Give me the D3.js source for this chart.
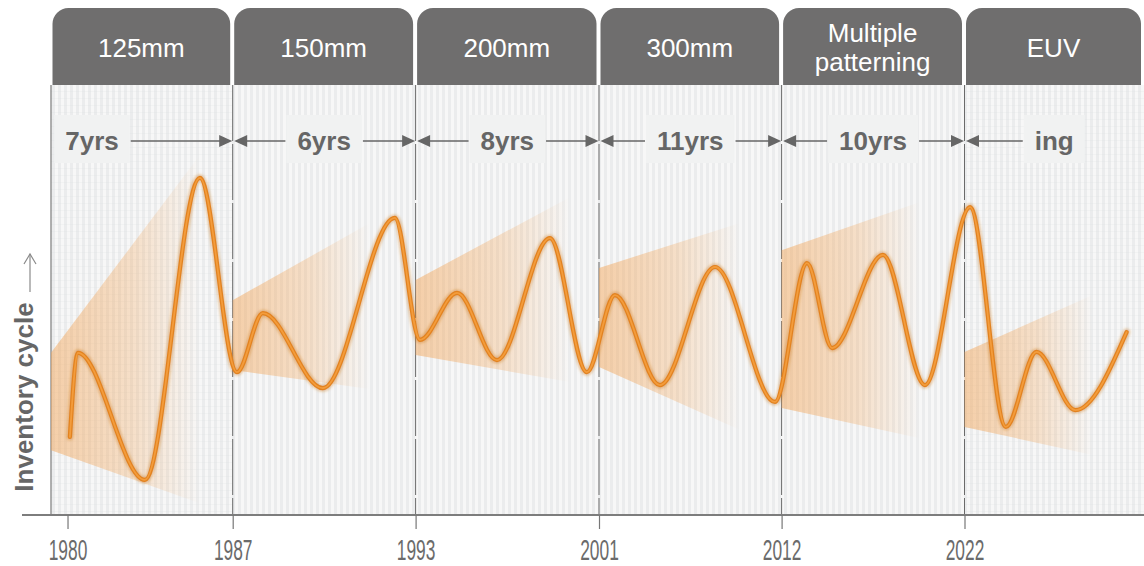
<!DOCTYPE html>
<html>
<head>
<meta charset="utf-8">
<script src="https://cdn.jsdelivr.net/npm/d3@7"></script>
<style>
  html, body { margin: 0; padding: 0; background: #ffffff; }
  svg { display: block; }
</style>
</head>
<body>
<svg id="chart" width="1144" height="566"></svg>
<script>
// Technology eras (tab labels, one array entry per line of text)
const eraNames = [["125mm"], ["150mm"], ["200mm"], ["300mm"], ["Multiple", "patterning"], ["EUV"]];
// Era boundaries on the time axis (first is the left edge of the plot, last the right edge)
const eraBounds = [1979.3, 1987, 1993, 2001, 2012, 2022, 2031.6];
// Duration of each era
const eraSpans = ["7yrs", "6yrs", "8yrs", "11yrs", "10yrs", "ing"];
// Year labels on the time axis
const yearTicks = [1980, 1987, 1993, 2001, 2012, 2022];

// Inventory cycle curve (turning points)
const cycleYears = [1980.1, 1980.44, 1983.28, 1985.61, 1987.14, 1987.99, 1989.96, 1992.32,
  1993.19, 1994.81, 1996.55, 1998.86, 2000.47, 2001.96, 2004.67, 2007.99, 2011.6,
  2013.39, 2014.76, 2017.54, 2019.84, 2022.3, 2024.21, 2025.85, 2027.93, 2030.67];
const cycleValues = [18.6, 38.1, 8.6, 78.7, 33.6, 47.3, 29.9, 69.4,
  41.1, 52.0, 36.4, 64.7, 33.6, 51.5, 30.6, 58.0, 26.7,
  58.9, 39.2, 60.8, 30.6, 71.9, 20.9, 38.3, 24.8, 42.9];

// Trend cones opening within each era
const fanStart = [1979.3, 1987, 1993, 2001, 2012, 2022];
const fanEnd = [1985.61, 1991.5, 1999.73, 2009.5, 2019.57, 2028.86];
const fanTopStart = [38.1, 50.3, 55.0, 57.8, 61.9, 38.3];
const fanBottomStart = [15.5, 34.1, 37.6, 34.8, 25.3, 20.9];
const fanTopEnd = [84.0, 68.2, 74.2, 68.2, 73.1, 51.5];
const fanBottomEnd = [3.2, 29.7, 31.3, 20.2, 18.3, 14.4];

const svg = d3.select("#chart");
const W = 1144;
const plotTop = 85, plotBottom = 515, plotLeft = 51;

// Piecewise time scale: every era gets roughly the same width
const x = d3.scaleLinear()
  .domain(eraBounds)
  .range([plotLeft, 232.7, 415.6, 599, 781.6, 964.5, W]);
const y = d3.scaleLinear().domain([0, 100]).range([517, 86]);

const defs = svg.append("defs");

// Vertical pin-stripe texture of the plot background
const stripes = defs.append("pattern")
  .attr("id", "stripes").attr("patternUnits", "userSpaceOnUse")
  .attr("width", 6).attr("height", 12);
stripes.append("rect").attr("width", 6).attr("height", 12).attr("fill", "#ebeced");
stripes.append("rect").attr("x", 1).attr("width", 3).attr("height", 12).attr("fill", "#f7f7f7");

// Faint cross-hatching on the first and last era
const grid = defs.append("pattern")
  .attr("id", "grid").attr("patternUnits", "userSpaceOnUse")
  .attr("width", 6).attr("height", 7);
grid.append("rect").attr("y", 0).attr("width", 6).attr("height", 1).attr("fill", "#dcdddd").attr("opacity", 0.22);

// Cone gradient: solid peach at the left, fading out to the right
const fanGrad = defs.append("linearGradient").attr("id", "fanGrad")
  .attr("x1", 0).attr("x2", 1).attr("y1", 0).attr("y2", 0);
fanGrad.append("stop").attr("offset", 0).attr("stop-color", "#f2a65a").attr("stop-opacity", 0.5);
fanGrad.append("stop").attr("offset", 0.55).attr("stop-color", "#f2a65a").attr("stop-opacity", 0.3);
fanGrad.append("stop").attr("offset", 1).attr("stop-color", "#f2a65a").attr("stop-opacity", 0);

const blur = defs.append("filter").attr("id", "soft")
  .attr("x", "-5%").attr("y", "-5%").attr("width", "110%").attr("height", "110%");
blur.append("feGaussianBlur").attr("stdDeviation", 1.6);

// Plot background
svg.append("rect")
  .attr("x", plotLeft).attr("y", plotTop)
  .attr("width", W - plotLeft).attr("height", plotBottom - plotTop)
  .attr("fill", "url(#stripes)");
[0, 5].forEach(i => {
  svg.append("rect")
    .attr("x", x(eraBounds[i])).attr("y", plotTop)
    .attr("width", x(eraBounds[i + 1]) - x(eraBounds[i])).attr("height", plotBottom - plotTop)
    .attr("fill", "url(#grid)");
});

// Era tabs
const tabTop = 8, tabBottom = plotTop, r = 16;
eraNames.forEach((lines, i) => {
  const x0 = x(eraBounds[i]) + 1.5;
  const x1 = Math.min(x(eraBounds[i + 1]) - 2.5, W - 3);
  const p = d3.path();
  p.moveTo(x0, tabBottom);
  p.lineTo(x0, tabTop + r);
  p.arcTo(x0, tabTop, x0 + r, tabTop, r);
  p.lineTo(x1 - r, tabTop);
  p.arcTo(x1, tabTop, x1, tabTop + r, r);
  p.lineTo(x1, tabBottom);
  p.closePath();
  svg.append("path").attr("d", p.toString()).attr("fill", "#6f6e6e");
  const cx = (x0 + x1) / 2;
  const t = svg.append("text")
    .attr("x", cx).attr("text-anchor", "middle")
    .attr("font-family", "'Liberation Sans', Arial, sans-serif")
    .attr("font-size", 26).attr("fill", "#ffffff");
  if (lines.length === 1) {
    t.append("tspan").attr("x", cx).attr("y", 57).text(lines[0]);
  } else {
    t.append("tspan").attr("x", cx).attr("y", 42).text(lines[0]);
    t.append("tspan").attr("x", cx).attr("y", 71).text(lines[1]);
  }
});

// Era dividers
svg.selectAll("line.divider")
  .data(eraBounds.slice(1, -1))
  .join("line").attr("class", "divider")
  .attr("x1", d => x(d)).attr("x2", d => x(d))
  .attr("y1", plotTop).attr("y2", plotBottom)
  .attr("stroke", "#6a6a6a").attr("stroke-width", 1)
  .attr("stroke-dasharray", "56,3");
svg.append("line")
  .attr("x1", plotLeft).attr("x2", plotLeft)
  .attr("y1", plotTop).attr("y2", plotBottom)
  .attr("stroke", "#7a7a7a").attr("stroke-width", 1.2);

// Trend cones
const fanGroup = svg.append("g");
fanStart.forEach((s, i) => {
  const pts = [
    [x(s), y(fanTopStart[i])],
    [x(fanEnd[i]), y(fanTopEnd[i])],
    [x(fanEnd[i]), y(fanBottomEnd[i])],
    [x(s), y(fanBottomStart[i])]
  ];
  fanGroup.append("path")
    .attr("d", "M" + pts.map(p => p.join(",")).join("L") + "Z")
    .attr("fill", "url(#fanGrad)");
});

// Inventory cycle curve
const cycle = cycleYears.map((yr, i) => [yr, cycleValues[i]]);
const line = d3.line().x(d => x(d[0])).y(d => y(d[1])).curve(d3.curveMonotoneX);
svg.append("path").attr("d", line(cycle))
  .attr("fill", "none").attr("stroke", "#c8711c").attr("stroke-width", 6.5)
  .attr("stroke-opacity", 0.45).attr("stroke-linecap", "round").attr("filter", "url(#soft)");
svg.append("path").attr("d", line(cycle))
  .attr("fill", "none").attr("stroke", "#e2821f").attr("stroke-width", 4.2)
  .attr("stroke-linecap", "round");
svg.append("path").attr("d", line(cycle))
  .attr("fill", "none").attr("stroke", "#f39c3c").attr("stroke-width", 1.8)
  .attr("stroke-linecap", "round");

// Era durations with arrows
const labY = 141, boxTop = 115, boxBottom = 163, pad = 11;
const arrowColor = "#666666";
eraSpans.forEach((label, i) => {
  const left = x(eraBounds[i]);
  const right = x(eraBounds[i + 1]);
  const cx = i === 0 ? left + 41 : (left + right) / 2;
  const g = svg.append("g");
  const box = g.append("rect").attr("fill", "#f1f2f2");
  const t = g.append("text")
    .attr("x", cx).attr("y", 150).attr("text-anchor", "middle")
    .attr("font-family", "'Liberation Sans', Arial, sans-serif")
    .attr("font-weight", "bold").attr("font-size", 26).attr("fill", arrowColor)
    .text(label);
  const w = t.node().getComputedTextLength();
  const bl = cx - w / 2 - pad, br = cx + w / 2 + pad;
  box.attr("x", bl).attr("y", boxTop).attr("width", br - bl).attr("height", boxBottom - boxTop);
  if (i > 0) {
    const tip = left + 1.5;
    g.append("line").attr("x1", tip + 10).attr("x2", bl - 1)
      .attr("y1", labY).attr("y2", labY).attr("stroke", arrowColor).attr("stroke-width", 1.6);
    g.append("path").attr("d", `M${tip},${labY}L${tip + 13},${labY - 6}L${tip + 13},${labY + 6}Z`)
      .attr("fill", arrowColor);
  }
  if (i < eraSpans.length - 1) {
    const tip = right - 0.5;
    g.append("line").attr("x1", br + 1).attr("x2", tip - 10)
      .attr("y1", labY).attr("y2", labY).attr("stroke", arrowColor).attr("stroke-width", 1.6);
    g.append("path").attr("d", `M${tip},${labY}L${tip - 13},${labY - 6}L${tip - 13},${labY + 6}Z`)
      .attr("fill", arrowColor);
  }
});

// Time axis
svg.append("line")
  .attr("x1", 22).attr("x2", W).attr("y1", plotBottom).attr("y2", plotBottom)
  .attr("stroke", "#7d7d7d").attr("stroke-width", 2);
const axis = svg.append("g")
  .attr("transform", `translate(0,${plotBottom})`)
  .call(d3.axisBottom(x).tickValues(yearTicks).tickFormat(d3.format("d")).tickSize(14));
axis.select(".domain").remove();
axis.selectAll(".tick line").attr("stroke", "#777777").attr("stroke-width", 1.2);
axis.selectAll(".tick text")
  .attr("y", 43).attr("dy", 0)
  .attr("transform", "scale(0.62,1.04)")
  .attr("font-family", "'Liberation Sans Narrow', 'Liberation Sans', sans-serif")
  .attr("font-size", 28).attr("fill", "#6b6b6b");

// Vertical axis title with arrow
svg.append("text")
  .attr("transform", "translate(33,397) rotate(-90)")
  .attr("text-anchor", "middle")
  .attr("font-family", "'Liberation Sans', Arial, sans-serif")
  .attr("font-weight", "bold").attr("font-size", 26).attr("fill", "#666666")
  .text("Inventory cycle");
svg.append("line").attr("x1", 30).attr("x2", 30).attr("y1", 292).attr("y2", 254)
  .attr("stroke", "#8a8a8a").attr("stroke-width", 1.2);
svg.append("path").attr("d", "M24,264L30,254L36,264")
  .attr("fill", "none").attr("stroke", "#8a8a8a").attr("stroke-width", 1.2);
</script>
</body>
</html>
